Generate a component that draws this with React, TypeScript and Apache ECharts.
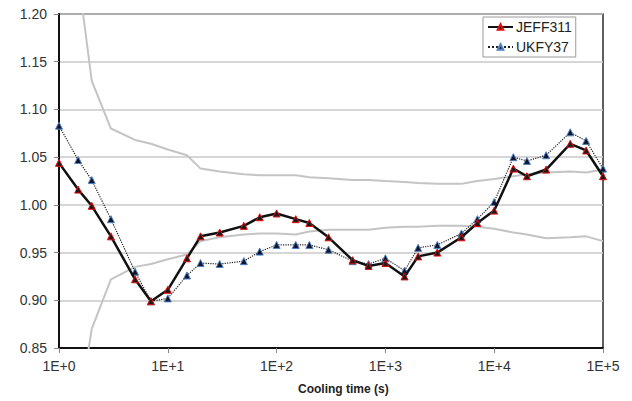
import React, { useEffect, useRef } from "react";
import * as echarts from "echarts";

const times = [1, 1.5, 2, 3, 5, 7, 10, 15, 20, 30, 50, 70, 100, 150, 200, 300, 500, 700, 1000, 1500, 2000, 3000, 5000, 7000, 10000, 15000, 20000, 30000, 50000, 70000, 100000];

const jeff311 = [1.044, 1.016, 0.999, 0.967, 0.922, 0.899, 0.911, 0.944, 0.967, 0.971, 0.978, 0.987, 0.991, 0.985, 0.981, 0.966, 0.942, 0.936, 0.939, 0.925, 0.946, 0.950, 0.966, 0.981, 0.994, 1.038, 1.030, 1.037, 1.064, 1.057, 1.030];

const ukfy37 = [1.083, 1.047, 1.026, 0.985, 0.930, 0.899, 0.902, 0.926, 0.939, 0.938, 0.941, 0.951, 0.958, 0.958, 0.958, 0.953, 0.941, 0.938, 0.944, 0.931, 0.955, 0.958, 0.970, 0.985, 1.003, 1.050, 1.046, 1.052, 1.076, 1.067, 1.038];

const bandTimes = times.slice(1);
const upperBand = [1.24, 1.13, 1.080, 1.068, 1.064, 1.058, 1.052, 1.038, 1.035, 1.032, 1.031, 1.031, 1.031, 1.029, 1.028, 1.026, 1.026, 1.025, 1.024, 1.023, 1.022, 1.022, 1.025, 1.027, 1.030, 1.032, 1.034, 1.035, 1.034, 1.037];
const lowerBand = [0.78, 0.870, 0.922, 0.935, 0.938, 0.943, 0.948, 0.962, 0.966, 0.969, 0.970, 0.970, 0.969, 0.972, 0.974, 0.974, 0.974, 0.976, 0.977, 0.977, 0.978, 0.978, 0.977, 0.975, 0.971, 0.969, 0.965, 0.966, 0.967, 0.962];

const yMin = 0.85;
const yMax = 1.2;
const yStep = 0.05;

const FONT = "'Liberation Sans', Arial, sans-serif";

export default function App() {
  const ref = useRef<HTMLDivElement>(null);
  useEffect(() => {
    if (!ref.current) return;
    const chart = echarts.init(ref.current, null, { renderer: "svg" });
    const pair = (xs: number[], ys: number[]) => xs.map((x, i) => [x, ys[i]]);
    chart.setOption({
      animation: false,
      backgroundColor: "#ffffff",
      textStyle: { fontFamily: FONT },
      grid: {
        left: 59,
        top: 14,
        width: 544,
        height: 334,
        show: true,
        borderColor: "#2a2a2a",
        borderWidth: 1.5,
        backgroundColor: "transparent",
      },
      legend: {
        data: ["JEFF311", "UKFY37"],
        orient: "vertical",
        left: 483,
        top: 17,
        padding: [3, 4, 3, 4],
        itemGap: 6,
        itemWidth: 25,
        itemHeight: 7,
        backgroundColor: "#ffffff",
        borderColor: "#9a9a9a",
        borderWidth: 1,
        textStyle: { fontSize: 14, color: "#222", fontFamily: FONT, padding: [0, 0, 0, -2] },
      },
      xAxis: {
        type: "log",
        logBase: 10,
        min: 1,
        max: 100000,
        axisLine: { show: true, lineStyle: { color: "#111", width: 2 } },
        axisTick: { show: true, length: 5, lineStyle: { color: "#888", width: 1 } },
        minorTick: { show: false },
        splitLine: { show: false },
        axisLabel: {
          fontSize: 14,
          color: "#333",
          margin: 11,
          fontFamily: FONT,
          formatter: (v: number) => "1E+" + Math.round(Math.log10(v)),
        },
      },
      yAxis: {
        type: "value",
        min: yMin,
        max: yMax,
        interval: yStep,
        axisLine: { show: true, lineStyle: { color: "#111", width: 2 } },
        axisTick: { show: true, length: 5, lineStyle: { color: "#888", width: 1 } },
        splitLine: { show: true, lineStyle: { color: "#c8c8c8", width: 1.5 } },
        axisLabel: {
          fontSize: 14,
          color: "#333",
          margin: 12,
          fontFamily: FONT,
          formatter: (v: number) => v.toFixed(2),
        },
      },
      graphic: [
        {
          type: "text",
          left: 298,
          top: 383,
          style: {
            text: "Cooling time (s)",
            font: "bold 12px " + FONT,
            fill: "#222",
          },
        },
      ],
      series: [
        {
          name: "upper",
          type: "line",
          data: pair(bandTimes, upperBand),
          showSymbol: false,
          symbol: "none",
          lineStyle: { color: "#c4c4c4", width: 2 },
          z: 1,
          clip: true,
        },
        {
          name: "lower",
          type: "line",
          data: pair(bandTimes, lowerBand),
          showSymbol: false,
          symbol: "none",
          lineStyle: { color: "#c4c4c4", width: 2 },
          z: 1,
          clip: true,
        },
        {
          name: "UKFY37",
          type: "line",
          data: pair(times, ukfy37),
          symbol: "triangle",
          symbolSize: 7,
          lineStyle: { color: "#222", width: 1.2, type: "dotted" },
          itemStyle: { color: "#10142e", borderColor: "#4f82c0", borderWidth: 1 },
          z: 3,
          clip: true,
        },
        {
          name: "JEFF311",
          type: "line",
          data: pair(times, jeff311),
          symbol: "triangle",
          symbolSize: 7,
          lineStyle: { color: "#111", width: 2.5 },
          itemStyle: { color: "#1a1a1a", borderColor: "#e01010", borderWidth: 1 },
          z: 4,
          clip: true,
        },
      ],
    });
    return () => chart.dispose();
  }, []);
  return (
    <div
      ref={ref}
      style={{ position: "fixed", left: 0, top: 0, width: 632, height: 401, background: "#fff" }}
    />
  );
}
